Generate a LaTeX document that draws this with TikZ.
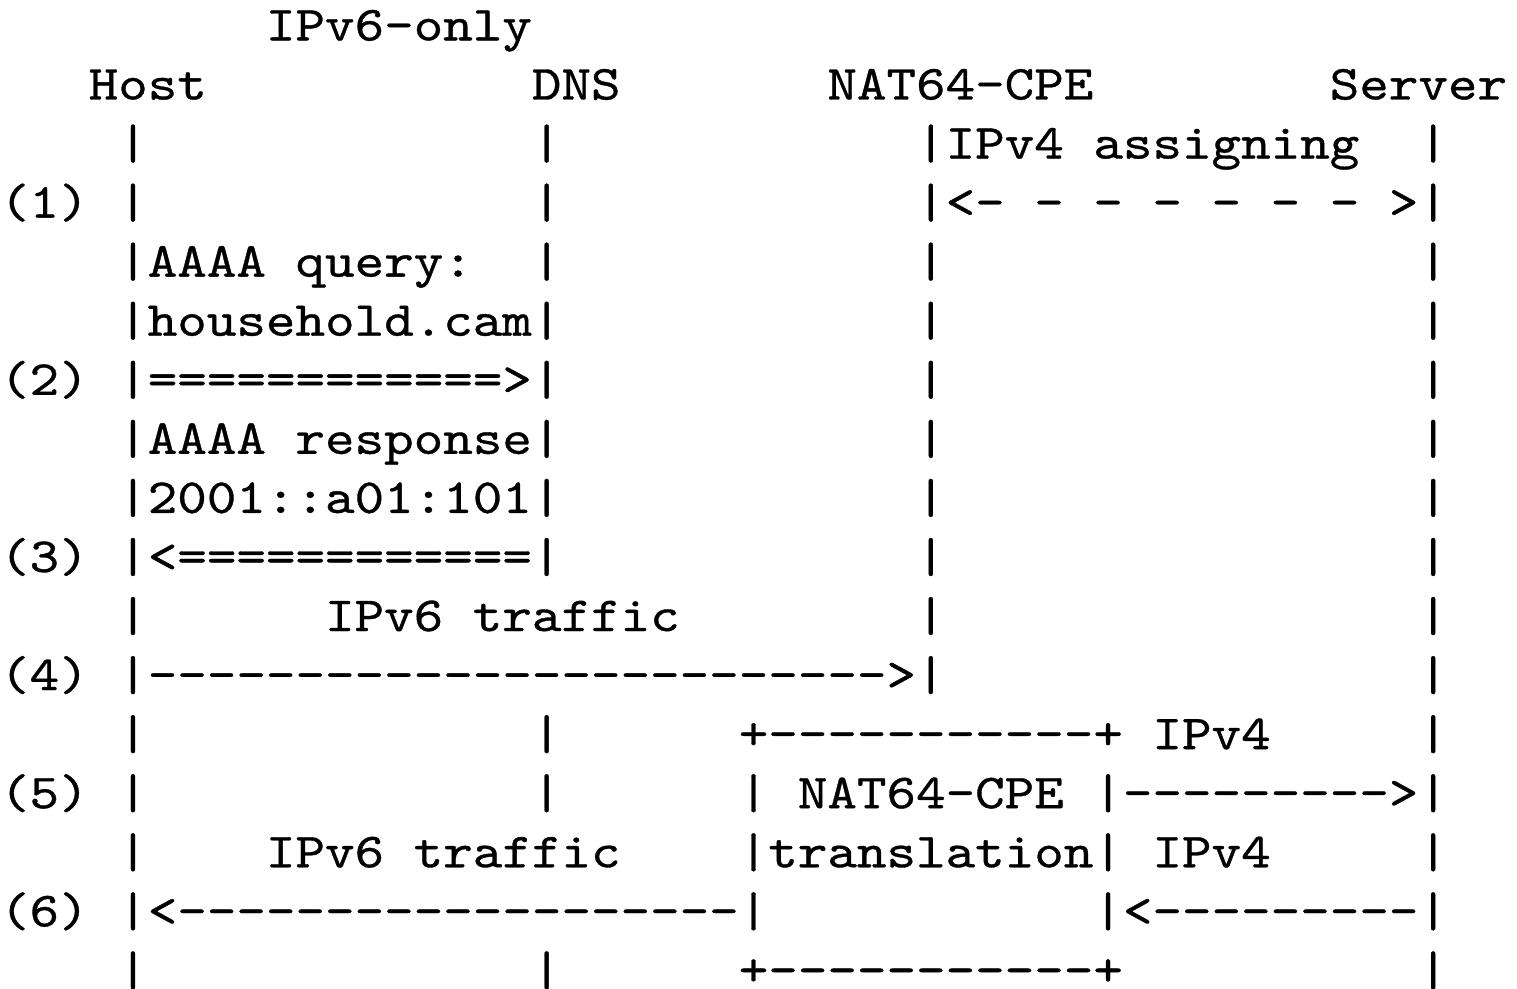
\documentclass[tikz,border=0pt]{standalone}
\usepackage{fontspec}
\setmonofont{lmmono10-regular.otf}[FakeStretch=1.1487,FakeBold=0.7]
\frenchspacing
\tikzset{asc/.style={anchor=base west,inner sep=0pt,outer sep=0pt,
  font=\ttfamily\fontsize{49pt}{59pt}\selectfont}}
\newcommand\T[4]{\node[asc] (#1) at ({29.55*#2},{40.4+59.06*#3}) {#4};}
\begin{document}
\begin{tikzpicture}[x=1pt,y=-1pt]
\fill[white] (0,0) rectangle (1517,988);
\useasboundingbox (0,0) rectangle (1517,988);
\T{r0a}{9}{0}{IPv6-only}
\T{host}{3}{1}{Host}
\T{dns}{18}{1}{DNS}
\T{nat}{28}{1}{NAT64-CPE}
\T{server}{45}{1}{Server}
\T{r2a}{4}{2}{|}
\T{r2b}{18}{2}{|}
\T{r2c}{31}{2}{|IPv4 assigning}
\T{r2d}{48}{2}{|}
\T{s1}{0}{3}{(1)}
\T{r3a}{4}{3}{|}
\T{r3b}{18}{3}{|}
\T{r3c}{31}{3}{|<- - - - - - - >|}
\T{r4a}{4}{4}{|AAAA query:}
\T{r4b}{18}{4}{|}
\T{r4c}{31}{4}{|}
\T{r4d}{48}{4}{|}
\T{r5a}{4}{5}{|household.cam|}
\T{r5c}{31}{5}{|}
\T{r5d}{48}{5}{|}
\T{s2}{0}{6}{(2)}
\T{r6a}{4}{6}{|============>|}
\T{r6c}{31}{6}{|}
\T{r6d}{48}{6}{|}
\T{r7a}{4}{7}{|AAAA response|}
\T{r7c}{31}{7}{|}
\T{r7d}{48}{7}{|}
\T{r8a}{4}{8}{|2001::a01:101|}
\T{r8c}{31}{8}{|}
\T{r8d}{48}{8}{|}
\T{s3}{0}{9}{(3)}
\T{r9a}{4}{9}{|<============|}
\T{r9c}{31}{9}{|}
\T{r9d}{48}{9}{|}
\T{r10a}{4}{10}{|}
\T{r10b}{11}{10}{IPv6 traffic}
\T{r10c}{31}{10}{|}
\T{r10d}{48}{10}{|}
\T{s4}{0}{11}{(4)}
\T{r11a}{4}{11}{|------------------------->|}
\T{r11d}{48}{11}{|}
\T{r12a}{4}{12}{|}
\T{r12b}{18}{12}{|}
\T{r12c}{25}{12}{+-----------+}
\T{r12e}{39}{12}{IPv4}
\T{r12d}{48}{12}{|}
\T{s5}{0}{13}{(5)}
\T{r13a}{4}{13}{|}
\T{r13b}{18}{13}{|}
\T{r13c}{25}{13}{| NAT64-CPE |--------->|}
\T{r14a}{4}{14}{|}
\T{r14b}{9}{14}{IPv6 traffic}
\T{r14c}{25}{14}{|translation|}
\T{r14e}{39}{14}{IPv4}
\T{r14d}{48}{14}{|}
\T{s6}{0}{15}{(6)}
\T{r15a}{4}{15}{|<-------------------|}
\T{r15c}{37}{15}{|<---------|}
\T{r16a}{4}{16}{|}
\T{r16b}{18}{16}{|}
\T{r16c}{25}{16}{+-----------+}
\T{r16d}{48}{16}{|}
\end{tikzpicture}
\end{document}
